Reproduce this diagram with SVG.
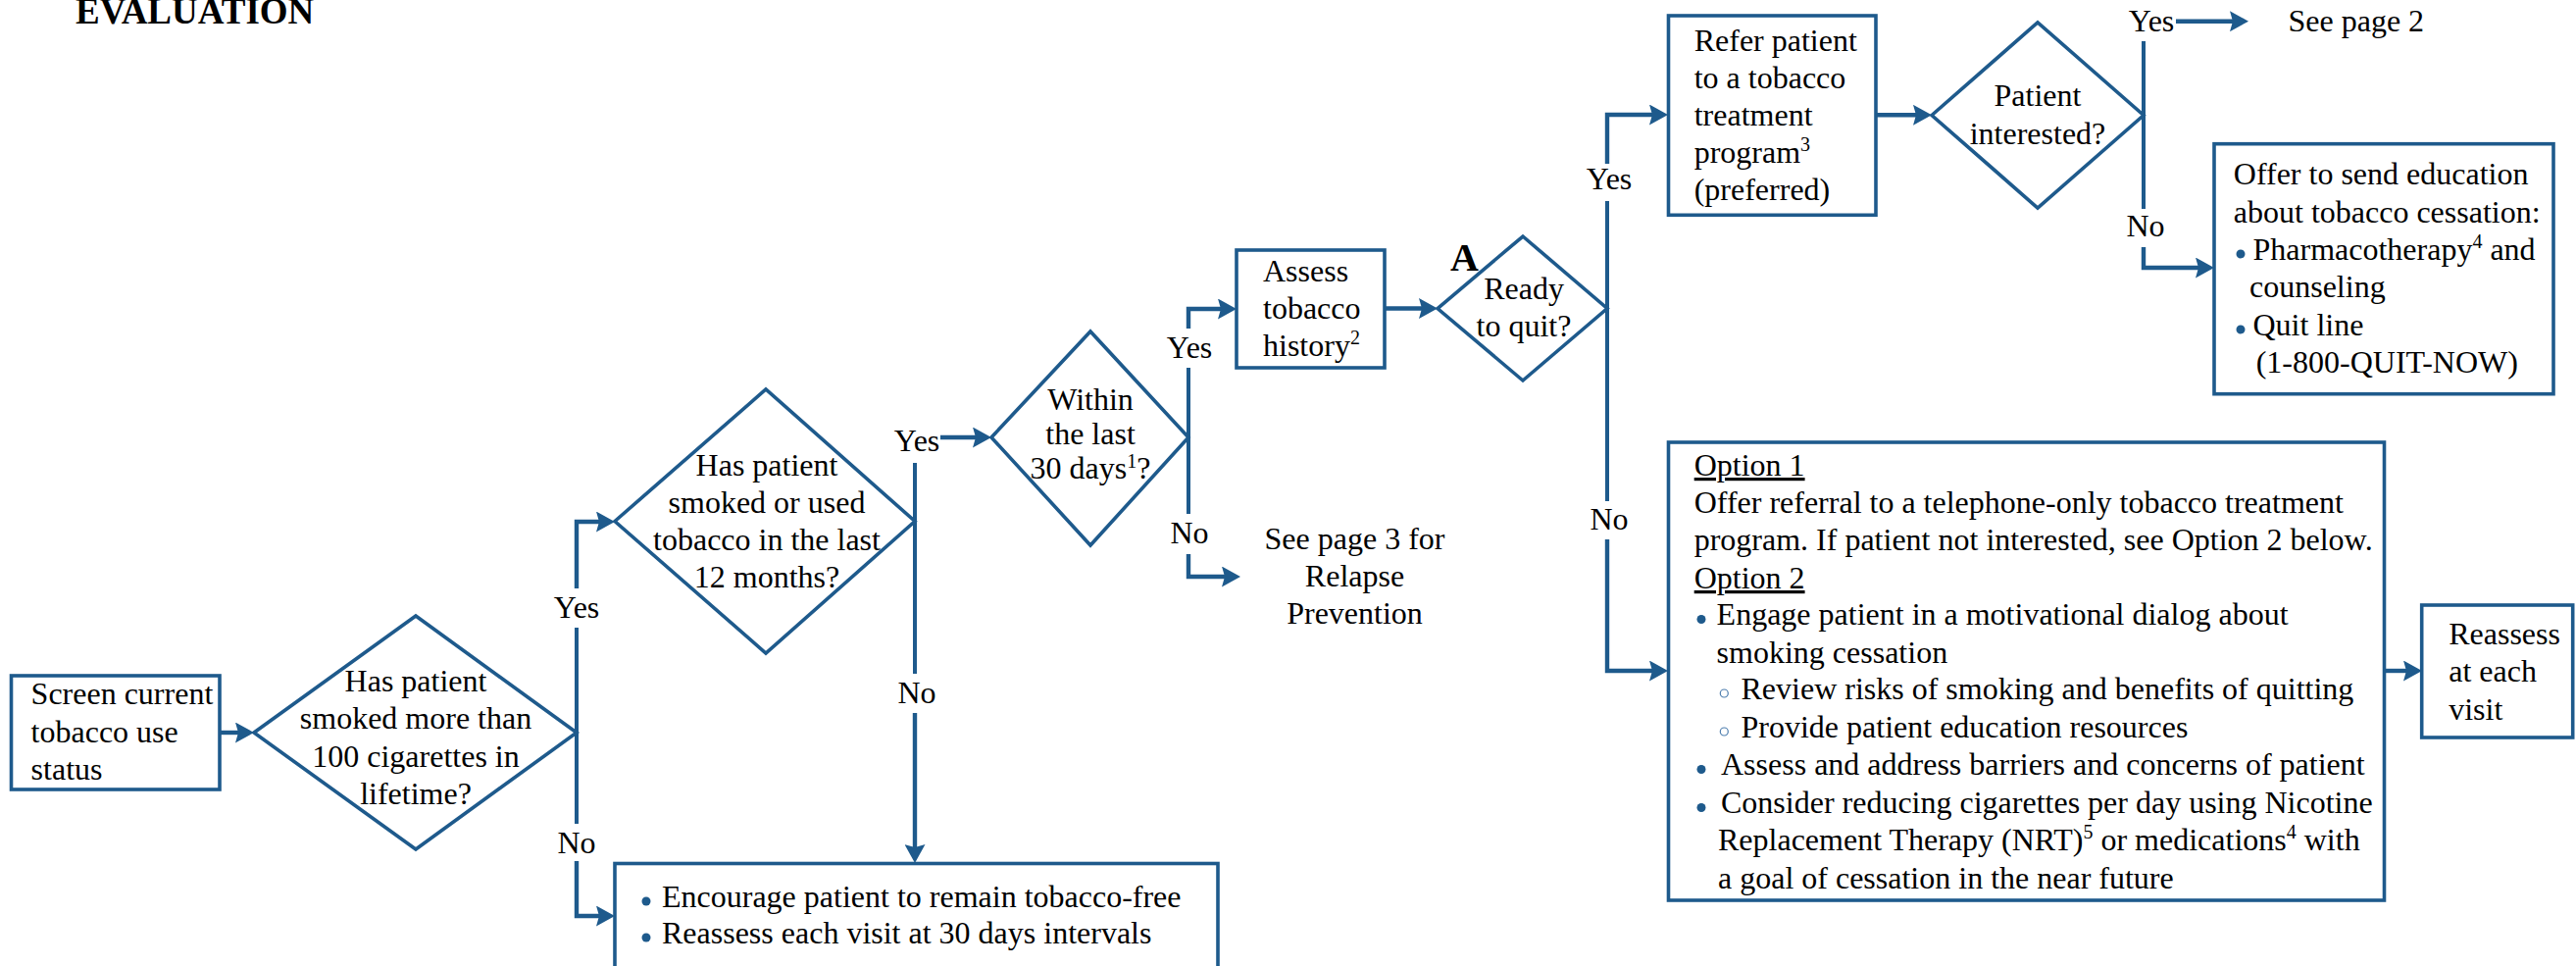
<svg xmlns="http://www.w3.org/2000/svg" width="2627" height="985" viewBox="0 0 2627 985">
<style>
text{font-family:"Liberation Serif","Times New Roman",serif;font-size:32px;fill:#000}
.c{text-anchor:middle}
.b{font-weight:bold}
.box{fill:#fff;stroke:#1E5A8C;stroke-width:3.6}
.dia{fill:#fff;stroke:#1E5A8C;stroke-width:3.6}
.ln{fill:none;stroke:#1E5A8C;stroke-width:4}
.ar{fill:none;stroke:#1E5A8C;stroke-width:4.4;marker-end:url(#ah)}
.dot{fill:#1E5A8C}
.odot{fill:none;stroke:#4F7FAF;stroke-width:1.2}
.sup{font-size:20px}
.u{text-decoration:underline}
</style>
<defs>
<marker id="ah" viewBox="0 0 19 21" refX="11" refY="10.5" markerWidth="19" markerHeight="21" markerUnits="userSpaceOnUse" orient="auto">
<path d="M0,0 L19,10.5 L0,21 L3,10.5 z" fill="#1E5A8C"/>
</marker>
</defs>
<rect width="2627" height="985" fill="#fff"/>
<text class="b" x="77" y="24" style="font-size:37px">EVALUATION</text>

<g id="connectors">
<path class="ar" d="M224,747 H251"/>
<path class="ln" d="M588,747 V640"/>
<path class="ar" d="M588,600 V532 H619"/>
<path class="ln" d="M588,747 V840"/>
<path class="ar" d="M588,878 V934 H619"/>
<path class="ln" d="M933,531 V472"/>
<path class="ar" d="M959,446 H1003"/>
<path class="ln" d="M933,531 V687"/>
<path class="ar" d="M933,727 V872"/>
<path class="ln" d="M1212,446 V375"/>
<path class="ar" d="M1212,335 V315 H1253"/>
<path class="ln" d="M1212,446 V524"/>
<path class="ar" d="M1212,565 V588 H1257"/>
<path class="ar" d="M1412,314.5 H1458"/>
<path class="ln" d="M1639,314.5 V205"/>
<path class="ar" d="M1639,167 V117 H1693"/>
<path class="ln" d="M1639,314.5 V511"/>
<path class="ar" d="M1639,550 V684 H1693"/>
<path class="ar" d="M1913,117.3 H1962"/>
<path class="ln" d="M2186,117.5 V42"/>
<path class="ar" d="M2219,21.7 H2285"/>
<path class="ln" d="M2186,117.5 V213"/>
<path class="ar" d="M2186,252 V273 H2250"/>
<path class="ar" d="M2431.7,684 H2462"/>
<text class="c" x="588" y="630">Yes</text>
<text class="c" x="588" y="870">No</text>
<text class="c" x="935" y="460">Yes</text>
<text class="c" x="935" y="717">No</text>
<text class="c" x="1213" y="365">Yes</text>
<text class="c" x="1213" y="554">No</text>
<text class="c" x="1641" y="193">Yes</text>
<text class="c" x="1641" y="540">No</text>
<text class="c" x="2194" y="32">Yes</text>
<text class="c" x="2188" y="241">No</text>
</g>

<g id="screen">
<rect class="box" x="11.5" y="689" width="212.5" height="116"/>
<text x="31.6" y="718">Screen current</text>
<text x="31.6" y="757">tobacco use</text>
<text x="31.6" y="795">status</text>
</g>

<g id="d-lifetime">
<polygon class="dia" points="259,747 424,628 588,747 424,866"/>
<text class="c" x="424" y="705">Has patient</text>
<text class="c" x="424" y="743">smoked more than</text>
<text class="c" x="424" y="782">100 cigarettes in</text>
<text class="c" x="424" y="820">lifetime?</text>
</g>

<g id="d-12months">
<polygon class="dia" points="627,531.5 781,397 933,531.5 781,666"/>
<text class="c" x="782" y="485">Has patient</text>
<text class="c" x="782" y="523">smoked or used</text>
<text class="c" x="782" y="561">tobacco in the last</text>
<text class="c" x="782" y="599">12 months?</text>
</g>

<g id="encourage">
<rect class="box" x="627" y="880.5" width="615" height="120"/>
<circle class="dot" cx="659" cy="919" r="4.5"/>
<circle class="dot" cx="659" cy="956" r="4.5"/>
<text x="675" y="925">Encourage patient to remain tobacco-free</text>
<text x="675" y="962">Reassess each visit at 30 days intervals</text>
</g>

<g id="d-30days">
<polygon class="dia" points="1011,446 1112,338 1212,446 1112,556"/>
<text class="c" x="1112" y="418">Within</text>
<text class="c" x="1112" y="453">the last</text>
<text class="c" x="1112" y="488">30 days<tspan class="sup" dy="-11">1</tspan><tspan dy="11">?</tspan></text>
</g>

<g id="relapse">
<text class="c" x="1381.5" y="560">See page 3 for</text>
<text class="c" x="1381.5" y="598">Relapse</text>
<text class="c" x="1381.5" y="636">Prevention</text>
</g>

<g id="assess">
<rect class="box" x="1261" y="255" width="151" height="120"/>
<text x="1288" y="287">Assess</text>
<text x="1288" y="325">tobacco</text>
<text x="1288" y="363">history<tspan class="sup" dy="-12">2</tspan></text>
</g>

<g id="d-ready">
<polygon class="dia" points="1466,314.5 1553,241 1639,314.5 1553,388"/>
<text class="b" x="1479" y="276" style="font-size:40px">A</text>
<text class="c" x="1554" y="305">Ready</text>
<text class="c" x="1554" y="343">to quit?</text>
</g>

<g id="refer">
<rect class="box" x="1701.5" y="16" width="211.5" height="203.3"/>
<text x="1727.7" y="52">Refer patient</text>
<text x="1727.7" y="90">to a tobacco</text>
<text x="1727.7" y="128">treatment</text>
<text x="1727.7" y="166">program<tspan class="sup" dy="-12">3</tspan></text>
<text x="1727.7" y="204">(preferred)</text>
</g>

<g id="d-interested">
<polygon class="dia" points="1970,117.5 2078,23 2186,117.5 2078,212"/>
<text class="c" x="2078" y="108">Patient</text>
<text class="c" x="2078" y="147">interested?</text>
</g>

<g id="page2">
<text x="2333.5" y="32">See page 2</text>
</g>

<g id="offer">
<rect class="box" x="2258" y="146.7" width="346" height="255"/>
<text x="2277.8" y="188">Offer to send education</text>
<text x="2277.8" y="227">about tobacco cessation:</text>
<circle class="dot" cx="2285" cy="259" r="4.5"/>
<text x="2297.5" y="265">Pharmacotherapy<tspan class="sup" dy="-12">4</tspan><tspan dy="12"> and</tspan></text>
<text x="2294" y="303">counseling</text>
<circle class="dot" cx="2285" cy="336" r="4.5"/>
<text x="2297.5" y="342">Quit line</text>
<text x="2300.7" y="380">(1-800-QUIT-NOW)</text>
</g>

<g id="options">
<rect class="box" x="1701.5" y="451" width="730" height="467"/>
<text class="u" x="1727.7" y="485">Option 1</text>
<text x="1727.7" y="523">Offer referral to a telephone-only tobacco treatment</text>
<text x="1727.7" y="561">program. If patient not interested, see Option 2 below.</text>
<text class="u" x="1727.7" y="600">Option 2</text>
<circle class="dot" cx="1735" cy="631.5" r="4.5"/>
<text x="1750.6" y="637">Engage patient in a motivational dialog about</text>
<text x="1750.6" y="676">smoking cessation</text>
<circle class="odot" cx="1758.3" cy="707" r="4"/>
<text x="1775.5" y="713">Review risks of smoking and benefits of quitting</text>
<circle class="odot" cx="1758.3" cy="746" r="4"/>
<text x="1775.5" y="752">Provide patient education resources</text>
<circle class="dot" cx="1735" cy="784.5" r="4.5"/>
<text x="1755" y="790">Assess and address barriers and concerns of patient</text>
<circle class="dot" cx="1735" cy="823.5" r="4.5"/>
<text x="1755" y="829">Consider reducing cigarettes per day using Nicotine</text>
<text x="1752" y="867">Replacement Therapy (NRT)<tspan class="sup" dy="-12">5</tspan><tspan dy="12"> or medications</tspan><tspan class="sup" dy="-12">4</tspan><tspan dy="12"> with</tspan></text>
<text x="1752" y="906">a goal of cessation in the near future</text>
</g>

<g id="reassess">
<rect class="box" x="2469.7" y="617" width="154" height="135"/>
<text x="2497.2" y="656.5">Reassess</text>
<text x="2497.2" y="695">at each</text>
<text x="2497.2" y="734">visit</text>
</g>
</svg>
